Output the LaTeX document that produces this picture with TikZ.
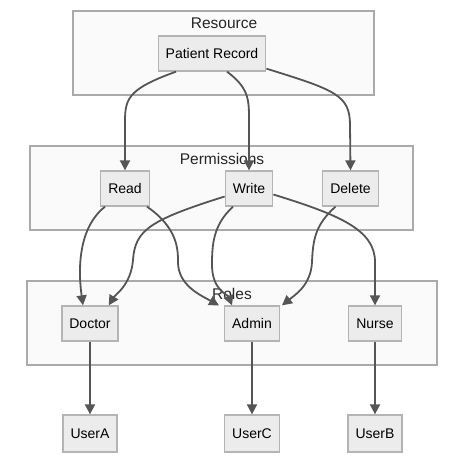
\documentclass[tikz,border=0pt]{standalone}
\usepackage{fontspec}
\setmainfont{Liberation Sans}
\usetikzlibrary{arrows.meta}
\definecolor{nodefill}{HTML}{ECECEC}
\definecolor{nodeline}{HTML}{B4B4B4}
\definecolor{clfill}{HTML}{FAFAFA}
\definecolor{clline}{HTML}{AAAAAA}
\definecolor{edgec}{HTML}{555555}
\tikzset{
  box/.style={draw=nodeline, fill=nodefill, line width=1.3pt, inner xsep=7.5pt, inner ysep=0pt, minimum height=35pt, font=\fontsize{14}{16}\selectfont, text=black},
  userbox/.style={box, minimum height=37pt},
  cluster/.style={draw=clline, fill=clfill, line width=1.1pt},
  cltitle/.style={font=\fontsize{15.5}{18}\selectfont, text=black!85},
  edge/.style={draw=edgec, line width=1.8pt, -{Triangle[length=10pt,width=10pt]}}
}
\begin{document}
\begin{tikzpicture}[x=1pt, y=-1pt]
\useasboundingbox (0,0) rectangle (466,461);
% clusters
\draw[cluster] (73,11) rectangle (374,95);
\node[cltitle] (tres) at (224,23) {Resource};
\draw[cluster] (30,146) rectangle (413,230);
\node[cltitle] (tperm) at (222,159) {Permissions};
\draw[cluster] (27,281) rectangle (437,365);
\node[cltitle] (troles) at (232,294) {Roles};
% nodes
\node[box] (pr) at (212,53.5) {Patient Record};
\node[box] (read) at (125,188.5) {Read};
\node[box] (write) at (249,188.5) {Write};
\node[box] (delete) at (350.5,188.5) {Delete};
\node[box] (doctor) at (90,323.5) {Doctor};
\node[box] (admin) at (252,323.5) {Admin};
\node[box] (nurse) at (375,323.5) {Nurse};
\node[userbox] (usera) at (90,433.5) {UserA};
\node[userbox] (userc) at (252,433.5) {UserC};
\node[userbox] (userb) at (375,433.5) {UserB};
% edges
\draw[edge] ([xshift=-36pt]pr.south) .. controls (125,90) and (125,100) .. (125,125) -- (read.north);
\draw[edge] ([xshift=15pt]pr.south) .. controls (249,88) and (249,100) .. (249,120) -- (write.north);
\draw[edge] ([yshift=3pt]pr.south east) .. controls (335,90) and (350,95) .. (350,125) -- (delete.north);
\draw[edge] ([xshift=-20pt]read.south) .. controls (78,228) and (78,270) .. ([xshift=-7pt]doctor.north);
\draw[edge] ([xshift=22pt]read.south) .. controls (178,228) and (178,250) .. (178,262) .. controls (178,285) and (200,295) .. ([xshift=-5pt]admin.north west);
\draw[edge] ([yshift=-8pt]write.west) .. controls (150,220) and (135,230) .. (133,260) .. controls (131,285) and (115,295) .. ([xshift=-10pt]doctor.north east);
\draw[edge] ([xshift=-16pt]write.south) .. controls (213,225) and (212,245) .. (212,265) .. controls (212,290) and (228,295) .. ([xshift=-20pt]admin.north);
\draw[edge] ([yshift=-6pt]write.east) .. controls (340,215) and (375,230) .. (375,262) -- (nurse.north);
\draw[edge] ([xshift=-15pt]delete.south) .. controls (315,225) and (313,240) .. (312,262) .. controls (311,285) and (295,295) .. ([xshift=2pt]admin.north east);
\draw[edge] (doctor.south) -- (usera.north);
\draw[edge] (admin.south) -- (userc.north);
\draw[edge] (nurse.south) -- (userb.north);
\end{tikzpicture}
\end{document}
